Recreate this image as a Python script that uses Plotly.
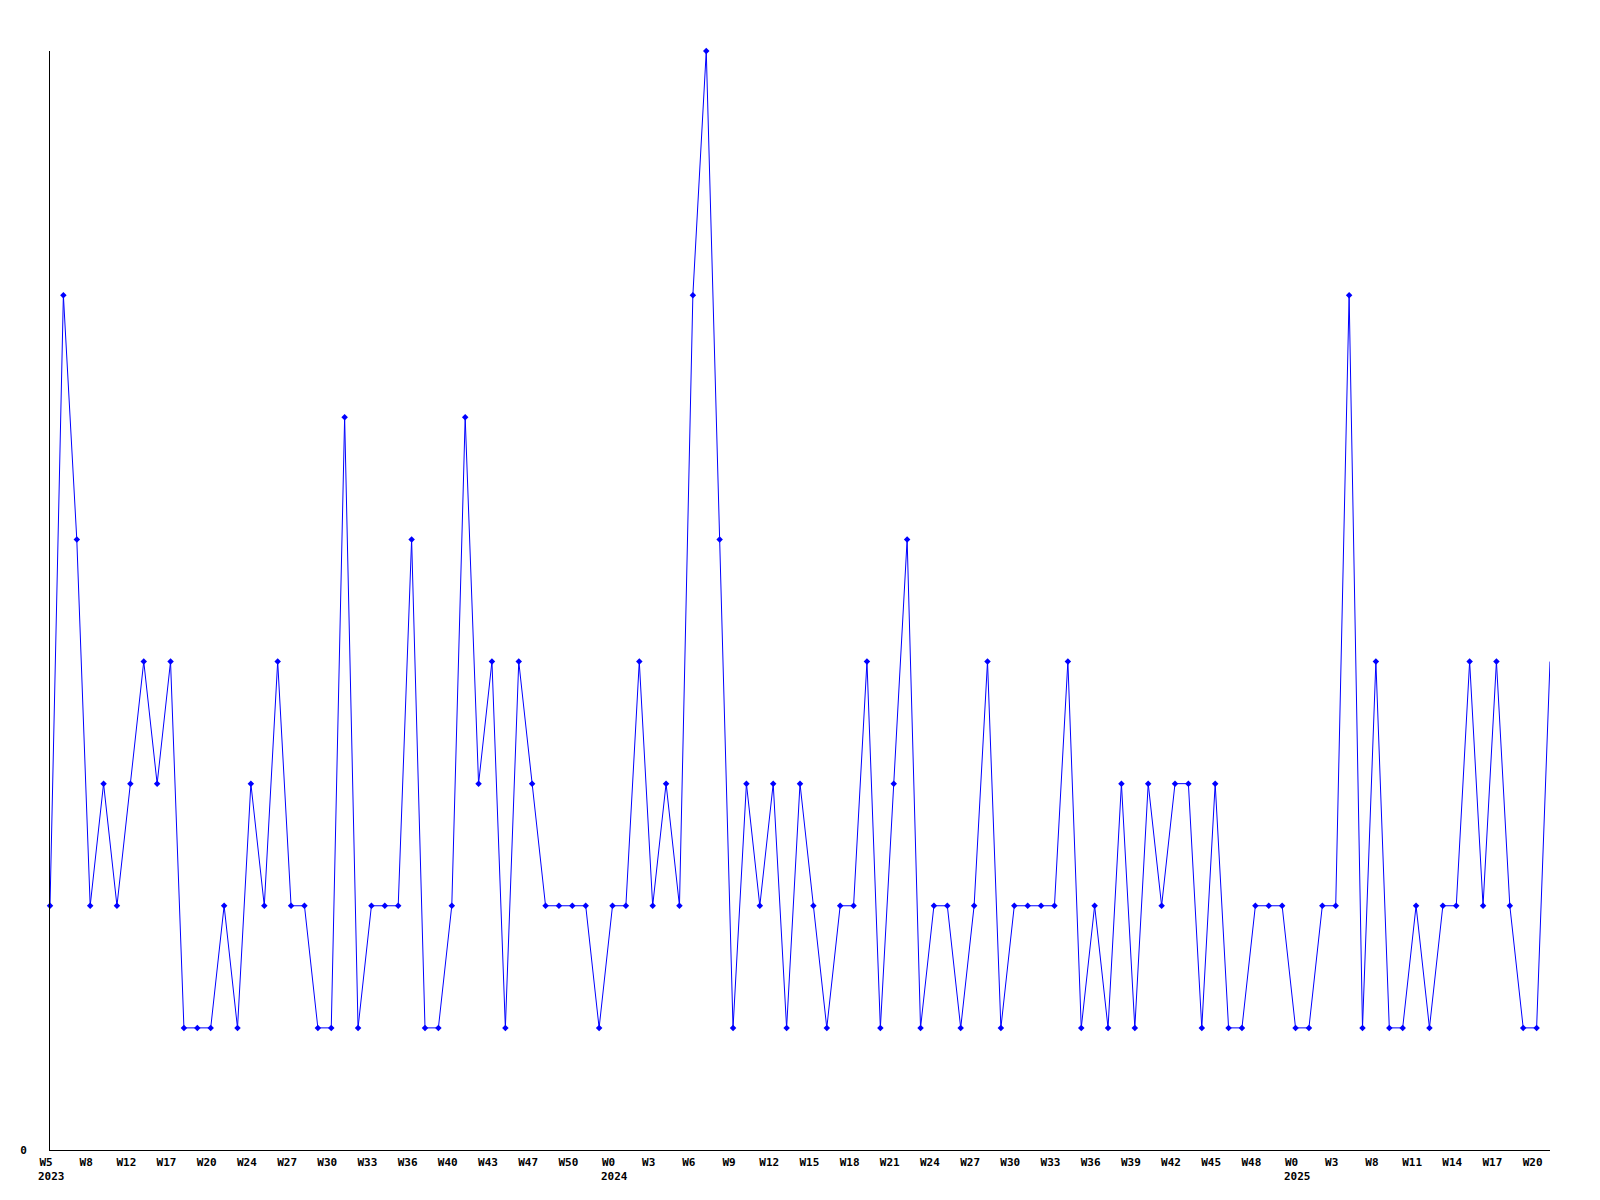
import plotly.graph_objects as go

values = [2, 7, 5, 2, 3, 2, 3, 4, 3, 4,
          1, 1, 1, 2, 1, 3, 2, 4, 2, 2,
          1, 1, 6, 1, 2, 2, 2, 5, 1, 1,
          2, 6, 3, 4, 1, 4, 3, 2, 2, 2,
          2, 1, 2, 2, 4, 2, 3, 2, 7, 9,
          5, 1, 3, 2, 3, 1, 3, 2, 1, 2,
          2, 4, 1, 3, 5, 1, 2, 2, 1, 2,
          4, 1, 2, 2, 2, 2, 4, 1, 2, 1,
          3, 1, 3, 2, 3, 3, 1, 3, 1, 1,
          2, 2, 2, 1, 1, 2, 2, 7, 1, 4,
          1, 1, 2, 1, 2, 2, 4, 2, 4, 2,
          1, 1, 4]

week_labels = ["W5", "W8", "W12", "W17", "W20", "W24", "W27", "W30", "W33", "W36",
               "W40", "W43", "W47", "W50",
               "W0", "W3", "W6", "W9", "W12", "W15", "W18", "W21", "W24", "W27",
               "W30", "W33", "W36", "W39", "W42", "W45", "W48",
               "W0", "W3", "W8", "W11", "W14", "W17", "W20"]
year_label_index = [0, 14, 31]
year_labels = ["2023", "2024", "2025"]
label_step = 3

x = list(range(len(values)))
tickvals = [i * label_step for i in range(len(week_labels))]
# last point sits on the plot edge and has no visible marker in the original
marker_opacity = [1] * (len(values) - 1) + [0]

fig = go.Figure()
fig.add_trace(go.Scatter(
    x=x, y=values, mode="lines+markers",
    line=dict(color="#0000FF", width=1),
    marker=dict(symbol="diamond", size=5, color="#0000FF", opacity=marker_opacity),
    cliponaxis=False, showlegend=False,
))

font = dict(family="DejaVu Sans Mono", size=11, color="black", weight="bold")

for idx, year in zip(year_label_index, year_labels):
    fig.add_annotation(x=tickvals[idx], y=0, xref="x", yref="paper",
                       text=year, showarrow=False, xanchor="left", yanchor="middle",
                       xshift=-14, yshift=-26, font=font)

fig.update_layout(
    width=1600, height=1200,
    margin=dict(l=42, r=58, t=43, b=58),
    paper_bgcolor="white", plot_bgcolor="white",
    font=font,
    xaxis=dict(range=[0, len(values) - 1], tickvals=tickvals, ticktext=week_labels,
               showgrid=False, zeroline=False, showline=True, linecolor="black",
               linewidth=1, ticks="", tickfont=font, ticklabelstandoff=2,
               ticklabelshift=-4),
    yaxis=dict(range=[0, 9], tickvals=[0], ticktext=["0"], showgrid=False,
               zeroline=False, showline=True, linecolor="black", linewidth=1,
               ticks="", tickfont=font, ticklabelstandoff=20),
)

fig.write_html("out.html")
